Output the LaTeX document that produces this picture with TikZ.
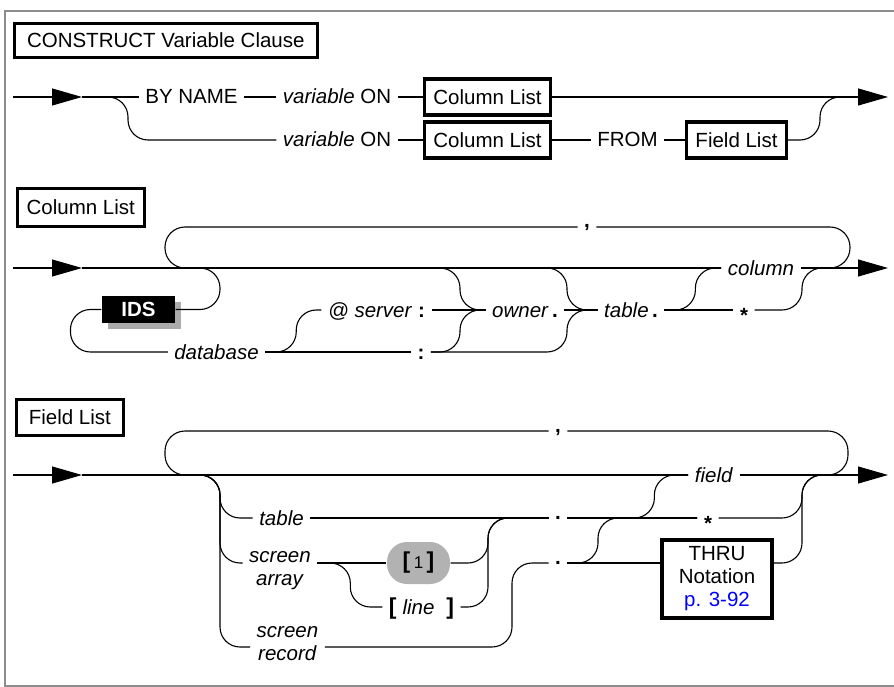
\documentclass[tikz,border=0pt]{standalone}
\usepackage{fontspec}
\setmainfont{Liberation Sans}
\usetikzlibrary{arrows.meta,positioning,shadows}
\newcommand{\diafont}{\fontsize{20.5}{23}\selectfont}
\newcommand{\brk}[1]{{\fontsize{23}{23}\selectfont\bfseries #1}}

\begin{document}
\begin{tikzpicture}[x=1pt,y=-1pt,line width=1.1pt,font=\diafont,
  rr/.style={rounded corners=20pt},
  arr/.style={-{Triangle[length=30pt,width=17pt]}},
  frame/.style={black!45,line width=2.5pt},
  title/.style={draw,line width=2.6pt,anchor=north west,inner sep=0pt},
  ref/.style={draw,line width=3.4pt,minimum height=36pt,inner xsep=9pt},
  kw/.style={inner xsep=6pt,inner ysep=0pt,text height=14pt,text depth=0pt},
  kw2/.style={align=center,inner xsep=6pt,inner ysep=0pt},
  ids/.style={fill=black,text=white,minimum width=73pt,minimum height=27pt,inner sep=0pt,
    drop shadow={shadow xshift=6pt,shadow yshift=-6pt,fill=black!33,opacity=1}},
  opt/.style={fill=black!30,rounded corners=20pt,minimum width=63pt,minimum height=42pt,inner sep=0pt}
]
\useasboundingbox (0,0) rectangle (894,687);
\draw[frame] (894,11) -| (5,686) -- (894,686);

\node[title,minimum width=303pt,minimum height=34pt] (t1) at (13,22) {CONSTRUCT Variable Clause};
\coordinate (s1) at (13,97);
\coordinate (a1) at (82,97);
\node[kw] (byname) at (191.5,97) {BY NAME};
\node[kw] (var1) at (337,97) {\textit{variable} ON};
\node[ref] (col1) at (487.5,97) {Column List};
\node[kw] (var2) at (337,140) {\textit{variable} ON};
\node[ref] (col2) at (487.5,140) {Column List};
\node[kw] (from) at (627.5,140) {FROM};
\node[ref] (fl1) at (736.5,140) {Field List};
\coordinate (j1) at (843,97);
\coordinate (e1) at (888,97);
\draw[arr] (s1)--(a1);
\draw (a1)--(byname);
\draw (byname)--(var1);
\draw (var1)--(col1);
\draw[arr] (col1)--(j1)--(e1);
\draw[rr] (a1) -- ++(46,0) |- (var2);
\draw (var2)--(col2);
\draw (col2)--(from);
\draw (from)--(fl1);
\draw[rr] (fl1) -| ([xshift=-23pt]j1) -- (j1);

\node[title,minimum width=127pt,minimum height=38pt] (t2) at (16,187) {Column List};
\coordinate (s2) at (13,268);
\coordinate (a2) at (82,268);
\coordinate (jl2) at (187,268);
\coordinate (jr2) at (823,268);
\coordinate (e2) at (888,268);
\node[kw] (comma2) at (587,227) {\raisebox{6pt}{\textbf{,}}};
\node[ids] (ids) at (138.5,309.5) {\textbf{IDS}};
\node[kw] (db) at (216.5,352) {\textit{database}};
\node[kw] (srv) at (376.5,310) {\textit{@ server}\hspace{6pt}\textbf{:}};
\node[kw] (colb) at (421,352) {\textbf{:}};
\coordinate (m1) at (483,310);
\node[kw] (own) at (525,310) {\textit{owner}\,\textbf{.}};
\coordinate (m2) at (587,310);
\node[kw] (tbl) at (631,310) {\textit{table}\,\textbf{.}};
\node[kw] (colm) at (761,268) {\textit{column}};
\node[kw] (star) at (744,310) {\raisebox{-5pt}{\textbf{*}}};
\draw[arr] (s2)--(a2);
\draw (a2)--(colm);
\draw (colm)--(jr2);
\draw[arr] (jr2)--(e2);
\draw[rr] (jr2) -- ++(27,0) |- (comma2);
\draw[rr] (comma2) -| ([xshift=-22pt]jl2) -- (jl2);
\draw[rr] (a2) -- ++(138,0) |- (ids);
\draw[rr] (ids.west) -- ++(-31,0) |- (db);
\draw[rr] (db.east) -- ++(31,0) |- (srv);
\draw (db)--(colb);
\draw (srv)--(m1);
\draw[rr] (a2) -| ([xshift=-23pt]m1) -- (m1);
\draw[rr] (colb) -| ([xshift=-23pt]m1) -- (m1);
\draw (m1)--(own);
\draw (own)--(m2);
\draw[rr] (a2) -| ([xshift=-20pt]m2) -- (m2);
\draw[rr] (colb) -| ([xshift=-20pt]m2) -- (m2);
\draw (m2)--(tbl);
\draw[rr] (tbl) -| ([xshift=-26pt]colm.west) -- (colm);
\draw (tbl)--(star);
\draw[rr] (star) -| ([xshift=-21pt]jr2) -- (jr2);

\node[title,minimum width=107pt,minimum height=36pt] (t3) at (15,398) {Field List};
\coordinate (s3) at (13,475);
\coordinate (a3) at (82,475);
\coordinate (jl3) at (187,475);
\coordinate (jr3) at (826,475);
\coordinate (e3) at (888,475);
\node[kw] (comma3) at (558,431) {\raisebox{6pt}{\textbf{,}}};
\node[kw] (fld) at (714,475) {\textit{field}};
\node[kw] (tb3) at (281.5,518) {\textit{table}};
\node[kw2] (sa) at (280,571) {\textit{screen}\\\textit{array}};
\node[opt] (one) at (418.5,563) {\brk{[}\,{\fontsize{17}{17}\selectfont 1}\,\brk{]}};
\node[kw] (lin) at (421.5,607) {\brk{[}\hspace{6pt}\textit{line}\hspace{12pt}\brk{]}};
\node[kw2] (sr) at (287.5,644) {\textit{screen}\\\textit{record}};
\coordinate (m3) at (513,518);
\node[kw] (dot1) at (558,518) {\raisebox{5.5pt}{\textbf{.}}};
\node[kw] (dot2) at (558,563) {\raisebox{5.5pt}{\textbf{.}}};
\node[kw] (star3) at (708,518) {\raisebox{-5pt}{\textbf{*}}};
\node[ref,align=center,minimum width=110pt,minimum height=78pt,inner sep=0pt] (thru) at (717,579) {THRU\\Notation\\\textcolor{blue}{p. 3-92}};
\draw[arr] (s3)--(a3);
\draw (a3)--(fld);
\draw (fld)--(jr3);
\draw[arr] (jr3)--(e3);
\draw[rr] (jr3) -- ++(22,0) |- (comma3);
\draw[rr] (comma3) -| ([xshift=-22pt]jl3) -- (jl3);
\draw[rr] (a3) -- ++(138,0) |- (tb3);
\draw[rr] (a3) -- ++(138,0) |- ([yshift=8pt]sa.west);
\draw[rr] (a3) -- ++(138,0) |- ([yshift=-3pt]sr.west);
\draw (tb3)--(dot1);
\draw ([yshift=8pt]sa.east) -- (one);
\draw[rr] ([yshift=8pt]sa.east) -- ++(33,0) |- (lin);
\draw[rr] (one) -| ([xshift=-25pt]m3) -- (m3);
\draw[rr] (lin) -| ([xshift=-25pt]m3) -- (m3);
\draw[rr] ([yshift=-3pt]sr.east) -| ([xshift=-46pt]dot2.center) -- (dot2);
\draw (dot1)--(star3);
\draw[rr] (dot1) -| ([xshift=-34pt]fld.west) -- (fld);
\draw[rr] (dot2) -| ([xshift=40pt]dot1.center) -- (star3);
\draw (dot2) -- (dot2 -| thru.west);
\draw[rr] (thru.east |- dot2) -| ([xshift=-24pt]jr3) -- (jr3);
\draw[rr] (star3) -| ([xshift=-24pt]jr3) -- (jr3);
\end{tikzpicture}
\end{document}
